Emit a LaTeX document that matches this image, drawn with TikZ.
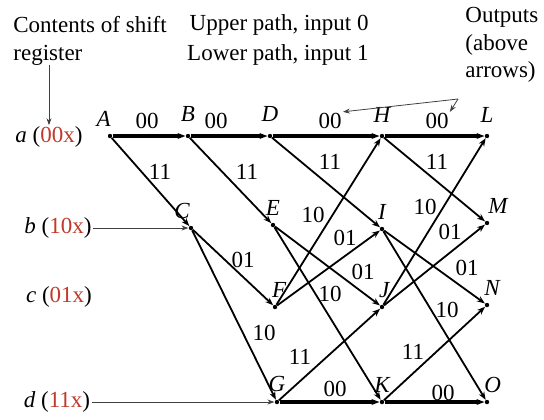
\documentclass[tikz,border=0pt]{standalone}
\usepackage{fontspec}
\setmainfont{Liberation Serif}
\usepackage{tikz}
\usetikzlibrary{arrows.meta,positioning}
\definecolor{regred}{HTML}{C0392B}

\begin{document}
\begin{tikzpicture}[
        x=0.5pt, y=-0.5pt,
        font=\fontsize{11.5}{13.8}\selectfont,
        state/.style={circle, fill=black, inner sep=0pt, minimum size=2.2pt},
        nlabel/.style={font=\fontsize{11.5}{13.8}\selectfont\itshape, inner sep=0.5pt},
        outbits/.style={inner sep=0.5pt},
        regname/.style={inner sep=0.5pt},
        note/.style={inner sep=0.5pt, align=left},
        branch/.style={-{Stealth[length=4pt, width=3pt]}, line width=0.9pt},
        mainbranch/.style={branch, line width=1.6pt},
        pointer/.style={-{Stealth[length=3.5pt, width=2.5pt]}, line width=0.4pt, black!75}
    ]
        \useasboundingbox (0,0) rectangle (544,419);

        % states of the trellis
        \node[state] (A) at (110,136) {};
        \node[state] (B) at (188,136) {};
        \node[state] (D) at (270,136) {};
        \node[state] (H) at (382,136) {};
        \node[state] (L) at (487,136) {};
        \node[state] (C) at (191,228) {};
        \node[state] (E) at (273,225) {};
        \node[state] (I) at (382,229) {};
        \node[state] (M) at (487,223) {};
        \node[state] (F) at (275,307) {};
        \node[state] (J) at (382,307) {};
        \node[state] (N) at (487,305) {};
        \node[state] (G) at (277,402) {};
        \node[state] (K) at (382,402) {};
        \node[state] (O) at (487,402) {};

        % state letters
        \node[nlabel, above left=3pt and -2pt of A] (lA) {A};
        \node[nlabel, above=5pt of B]  (lB) {B};
        \node[nlabel, above=5pt of D]  (lD) {D};
        \node[nlabel, above=5pt of H]  (lH) {H};
        \node[nlabel, above=5pt of L]  (lL) {L};
        \node[nlabel, above left=3pt and -1pt of C] (lC) {C};
        \node[nlabel, above=3pt of E]  (lE) {E};
        \node[nlabel, above=3pt of I]  (lI) {I};
        \node[nlabel, above right=3pt and -1pt of M] (lM) {M};
        \node[nlabel, above right=3pt and -3pt of F] (lF) {F};
        \node[nlabel, above right=3pt and -3pt of J] (lJ) {J};
        \node[nlabel, above right=3pt and -3pt of N] (lN) {N};
        \node[nlabel, above=3pt of G]  (lG) {G};
        \node[nlabel, above=3pt of K]  (lK) {K};
        \node[nlabel, above right=3pt and -3pt of O] (lO) {O};

        % branches
        \draw[mainbranch] (A) -- (B);
        \draw[mainbranch] (B) -- (D);
        \draw[mainbranch] (D) -- (H);
        \draw[mainbranch] (H) -- (L);
        \draw[mainbranch] (G) -- (K);
        \draw[mainbranch] (K) -- (O);
        \draw[branch] (A) -- (C);
        \draw[branch] (B) -- (E);
        \draw[branch] (C) -- (F);
        \draw[branch] (C) -- (G);
        \draw[branch] (D) -- (I);
        \draw[branch] (E) -- (J);
        \draw[branch] (E) -- (K);
        \draw[branch] (F) -- (H);
        \draw[branch] (F) -- (I);
        \draw[branch] (G) -- (J);
        \draw[branch] (H) -- (M);
        \draw[branch] (I) -- (N);
        \draw[branch] (I) -- (O);
        \draw[branch] (J) -- (L);
        \draw[branch] (J) -- (M);
        \draw[branch] (K) -- (N);

        % output bits above the branches
        \node[outbits] (oAB) at (147,121) {00};
        \node[outbits] (oBD) at (216,121) {00};
        \node[outbits] (oDH) at (330,121) {00};
        \node[outbits] (oHL) at (437,121) {00};
        \node[outbits] (oAC) at (160,172) {11};
        \node[outbits] (oBE) at (247,172) {11};
        \node[outbits] (oCF) at (243,260) {01};
        \node[outbits] (oCG) at (264,333) {10};
        \node[outbits] (oDI) at (330,162) {11};
        \node[outbits] (oFH) at (313,215) {10};
        \node[outbits] (oFI) at (345,238) {01};
        \node[outbits] (oEJ) at (363,272) {01};
        \node[outbits] (oEK) at (330,294) {10};
        \node[outbits] (oGJ) at (300,357) {11};
        \node[outbits] (oGK) at (335,389) {00};
        \node[outbits] (oHM) at (437,162) {11};
        \node[outbits] (oJL) at (425,207) {10};
        \node[outbits] (oJM) at (450,232) {01};
        \node[outbits] (oIN) at (467,268) {01};
        \node[outbits] (oIO) at (447,310) {10};
        \node[outbits] (oKN) at (413,352) {11};
        \node[outbits] (oKO) at (443,393) {00};

        % register contents
        \node[regname] (ra) at (49,137) {\textit{a} (\textcolor{regred}{00x})};
        \node[regname] (rb) at (58,228) {\textit{b} (\textcolor{regred}{10x})};
        \node[regname] (rc) at (59,297) {\textit{c} (\textcolor{regred}{01x})};
        \node[regname] (rd) at (57,402) {\textit{d} (\textcolor{regred}{11x})};
        \draw[pointer] (rb) -- (C);
        \draw[pointer] (rd) -- (G);

        % headings
        \node[note, anchor=west] (shift) at (12,25) {Contents of shift};
        \node[note, anchor=west] (reg)   at (12,55) {register};
        \node[note, anchor=east] (upper) at (370,25) {Upper path, input 0};
        \node[note, anchor=east] (lower) at (370,55) {Lower path, input 1};
        \node[note, anchor=north west] (outs) at (464,6) {Outputs\\(above\\arrows)};
        \draw[pointer] (reg.south -| ra) ++(0,-2) coordinate (regtop) -- (ra.north);

        \coordinate (outfork) at (458,99);
        \draw[pointer] (outfork) -- (oDH.north east);
        \draw[pointer] (outfork) -- (oHL.north east);
    \end{tikzpicture}
\end{document}
